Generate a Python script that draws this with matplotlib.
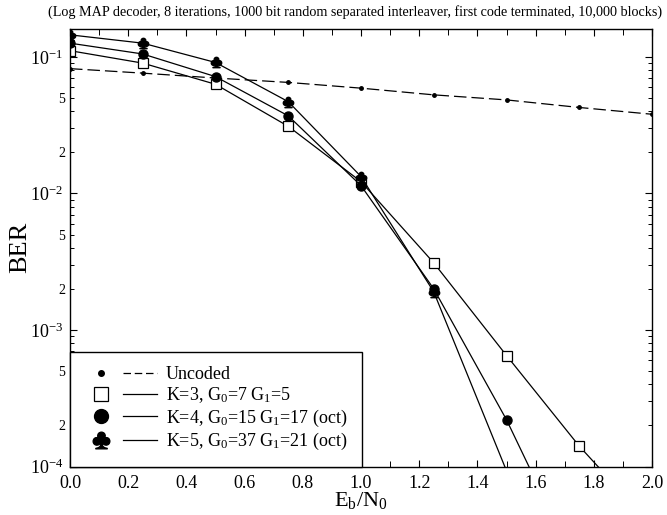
import matplotlib
matplotlib.use("Agg")
import matplotlib.pyplot as plt
from matplotlib.lines import Line2D
from matplotlib.legend_handler import HandlerTuple
from matplotlib.ticker import LogLocator, FuncFormatter, MultipleLocator
import math

plt.rcParams['font.family'] = ['Liberation Serif', 'DejaVu Serif']
plt.rcParams['mathtext.fontset'] = 'custom'
plt.rcParams['mathtext.rm'] = 'Liberation Serif'
plt.rcParams['mathtext.it'] = 'Liberation Serif:italic'
plt.rcParams['mathtext.bf'] = 'Liberation Serif:bold'

# ---- data ----
ebn0_uncoded = [0.0, 0.25, 0.5, 0.75, 1.0, 1.25, 1.5, 1.75, 2.0]
ber_uncoded = [0.082, 0.076, 0.070, 0.065, 0.059, 0.0527, 0.0484, 0.0426, 0.038]

ebn0_k3 = [0.0, 0.25, 0.5, 0.75, 1.0, 1.25, 1.5, 1.75, 2.0]
ber_k3 = [0.111, 0.090, 0.063, 0.031, 0.0122, 0.0031, 6.5e-4, 1.41e-4, 3.7e-5]

ebn0_k4 = [0.0, 0.25, 0.5, 0.75, 1.0, 1.25, 1.5, 1.75]
ber_k4 = [0.126, 0.105, 0.0717, 0.037, 0.0114, 0.0020, 2.2e-4, 1.7e-5]

ebn0_k5 = [0.0, 0.25, 0.5, 0.75, 1.0, 1.25, 1.5]
ber_k5 = [0.145, 0.126, 0.091, 0.047, 0.0133, 0.0019, 9.3e-5]

labels = ["Uncoded",
          "K=3, G$_0$=7 G$_1$=5",
          "K=4, G$_0$=15 G$_1$=17 (oct)",
          "K=5, G$_0$=37 G$_1$=21 (oct)"]
title = "(Log MAP decoder, 8 iterations, 1000 bit random separated interleaver, first code terminated, 10,000 blocks)"
xlabel = "E$_\\mathrm{b}$/N$_0$"
ylabel = "BER"

# ---- figure ----
fig = plt.figure(figsize=(6.67, 5.15), dpi=100)
ax = fig.add_axes([70/667, 1 - 466.5/515, 582/667, (466.5 - 29)/515])

lw = 0.9
club = r'$\clubsuit$'
ax.plot(ebn0_uncoded, ber_uncoded, color='black', lw=lw, ls=(0, (10, 4)),
        marker='o', markersize=2.5)
ax.plot(ebn0_k3, ber_k3, color='black', lw=lw, marker='s', markersize=6.5,
        markerfacecolor='white', markeredgecolor='black', markeredgewidth=0.9,
        markevery=slice(0, len(ebn0_k3) - 1))
ax.plot(ebn0_k4, ber_k4, color='black', lw=lw, marker='o', markersize=6.5,
        markevery=slice(0, len(ebn0_k4) - 1))
ax.plot(ebn0_k5, ber_k5, color='black', lw=lw, marker=club, markersize=7.5,
        markevery=slice(0, len(ebn0_k5) - 1))

ax.set_yscale('log')
ax.set_xlim(0.0, 2.0)
ax.set_ylim(1e-4, 0.16)

ax.xaxis.set_major_locator(MultipleLocator(0.2))
ax.xaxis.set_minor_locator(MultipleLocator(0.1))
ax.xaxis.set_major_formatter(FuncFormatter(lambda v, p: f"{v:.1f}"))

ax.yaxis.set_major_locator(LogLocator(base=10, numticks=10))
ax.yaxis.set_minor_locator(LogLocator(base=10, subs=range(2, 10), numticks=20))

def major_fmt(v, p):
    e = int(round(math.log10(v)))
    return "10$^{%d}$" % e

def minor_fmt(v, p):
    e = math.floor(math.log10(v) + 1e-9)
    m = int(round(v / 10**e))
    return str(m) if m in (2, 5) else ""

ax.yaxis.set_major_formatter(FuncFormatter(major_fmt))
ax.yaxis.set_minor_formatter(FuncFormatter(minor_fmt))

ax.tick_params(which='both', direction='in', top=True, right=True, color='black')
ax.tick_params(which='major', length=5, width=0.8, labelsize=13)
ax.tick_params(which='minor', length=3, width=0.7, labelsize=10)
ax.tick_params(axis='x', which='minor', length=4)
ax.tick_params(axis='x', which='major', pad=6)
ax.tick_params(axis='y', which='major', pad=5)
for s in ax.spines.values():
    s.set_linewidth(1.0)

ax.set_xlabel(xlabel, fontsize=16, labelpad=-1)
ax.set_ylabel(ylabel, fontsize=19, labelpad=-1)
fig.text(0.532, 1 - 12/515, title, ha='center', va='center', fontsize=10.2)

# ---- legend ----
mk_unc = Line2D([], [], color='black', ls='none', marker='o', markersize=4)
mk_k3 = Line2D([], [], color='black', ls='none', marker='s', markersize=10,
               markerfacecolor='white', markeredgewidth=0.9)
mk_k4 = Line2D([], [], color='black', ls='none', marker='o', markersize=10)
mk_k5 = Line2D([], [], color='black', ls='none', marker=club, markersize=12)
ln_unc = Line2D([], [], color='black', lw=lw, ls=(0, (6, 3)))
ln_sol = Line2D([], [], color='black', lw=lw)
handles = [(mk_unc, ln_unc), (mk_k3, ln_sol), (mk_k4, ln_sol), (mk_k5, ln_sol)]
leg = ax.legend(handles, labels, loc='lower left', borderaxespad=0,
                handler_map={tuple: HandlerTuple(ndivide=None, pad=0.3)},
                handlelength=4.0, handletextpad=0.5, fontsize=13,
                labelspacing=0.12, borderpad=0.8,
                fancybox=False, edgecolor='black', framealpha=1)
leg.get_frame().set_linewidth(1.0)

fig.savefig("out.png", dpi=100)
